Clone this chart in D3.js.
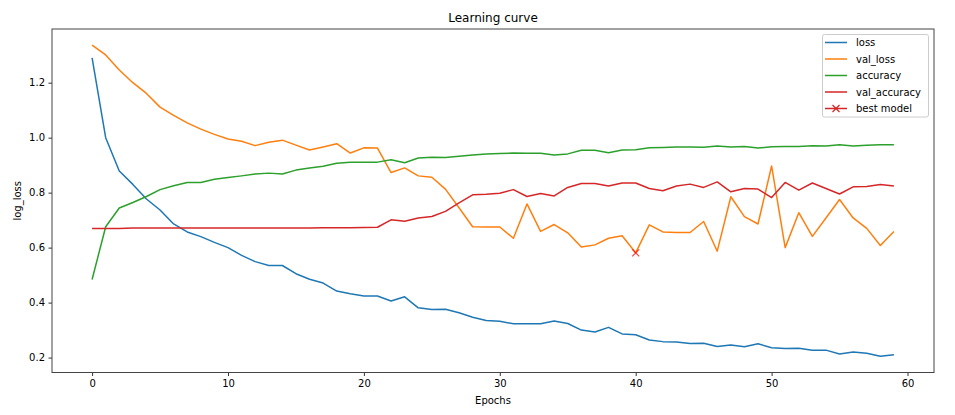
<!DOCTYPE html>
<html><head><meta charset="utf-8">
<script src="https://cdn.jsdelivr.net/npm/d3@7"></script>
<style>
body{margin:0;background:#fff;}
text{font-family:"DejaVu Sans",sans-serif;fill:#000;}
</style></head>
<body><svg id="c" width="955" height="415"></svg>
<script>
const loss=[1.29,1.0,0.879,0.83,0.777,0.737,0.686,0.657,0.640,0.619,0.600,0.572,0.549,0.535,0.535,0.505,0.485,0.471,0.442,0.432,
0.424,0.424,0.406,0.421,0.381,0.375,0.376,0.363,0.347,0.335,0.332,0.323,0.323,0.323,0.333,0.324,0.300,0.293,0.310,0.286,
0.283,0.264,0.258,0.257,0.251,0.252,0.240,0.246,0.239,0.250,0.236,0.233,0.234,0.227,0.227,0.213,0.220,0.216,0.205,0.210];
const valLoss=[1.337,1.301,1.246,1.2,1.161,1.111,1.081,1.054,1.031,1.012,0.995,0.987,0.971,0.983,0.991,0.973,0.955,0.966,0.978,0.944,
0.963,0.962,0.873,0.890,0.861,0.856,0.813,0.745,0.676,0.675,0.675,0.634,0.759,0.659,0.684,0.654,0.602,0.610,0.634,0.643,
0.581,0.683,0.657,0.655,0.655,0.695,0.587,0.785,0.713,0.686,0.897,0.600,0.727,0.641,0.708,0.775,0.708,0.670,0.608,0.659];
const accuracy=[0.484,0.676,0.744,0.764,0.786,0.811,0.825,0.837,0.837,0.849,0.855,0.861,0.868,0.871,0.868,0.882,0.890,0.896,0.907,0.911,
0.911,0.911,0.920,0.909,0.926,0.929,0.928,0.932,0.937,0.941,0.942,0.944,0.943,0.943,0.937,0.941,0.954,0.954,0.945,0.955,
0.956,0.963,0.964,0.966,0.966,0.965,0.970,0.966,0.968,0.962,0.967,0.968,0.968,0.971,0.970,0.974,0.970,0.972,0.974,0.974];
const valAccuracy=[0.670,0.670,0.670,0.671,0.671,0.671,0.671,0.671,0.671,0.671,0.671,0.671,0.671,0.671,0.671,0.671,0.671,0.672,0.672,0.672,
0.673,0.674,0.701,0.696,0.708,0.713,0.732,0.763,0.792,0.794,0.798,0.811,0.786,0.797,0.788,0.819,0.833,0.833,0.824,0.835,
0.835,0.815,0.807,0.824,0.831,0.819,0.839,0.803,0.815,0.813,0.782,0.837,0.809,0.835,0.815,0.795,0.821,0.822,0.830,0.824];
const bestEpoch=[40];
const bestValue=[0.581];
const xTicks=[0,10,20,30,40,50,60];
const yTicks=[0.2,0.4,0.6,0.8,1.0,1.2];
const seriesNames=["loss","val_loss","accuracy","val_accuracy","best model"];
const colors=["#1f77b4","#ff7f0e","#2ca02c","#d62728","red"];

const svg=d3.select("#c");
const L=52,R=934,T=29,B=372.5;
const x=d3.scaleLinear().domain([-2.95,61.95]).range([L,R]);
const y=d3.scaleLinear().domain([0.1457,1.3953]).range([B,T]);

const series=[loss,valLoss,accuracy,valAccuracy];
const line=d3.line().x((d,i)=>x(i)).y(d=>y(d));
const g=svg.append("g");
series.forEach((s,k)=>{
  g.append("path").attr("d",line(s)).attr("fill","none").attr("stroke",colors[k]).attr("stroke-width",1.5).attr("stroke-linejoin","round");
});
// best model marker
bestEpoch.forEach((e,i)=>{
  const cx=x(e),cy=y(bestValue[i]),r=3.5;
  g.append("path").attr("d",`M${cx-r},${cy-r}L${cx+r},${cy+r}M${cx-r},${cy+r}L${cx+r},${cy-r}`)
   .attr("stroke",colors[4]).attr("stroke-width",1.2).attr("opacity",0.75);
});

// axes
const xAx=svg.append("g").attr("transform",`translate(0,${B})`).call(d3.axisBottom(x).tickValues(xTicks).tickSize(3.5).tickPadding(3.5).tickFormat(d3.format("d")));
const yAx=svg.append("g").attr("transform",`translate(${L},0)`).call(d3.axisLeft(y).tickValues(yTicks).tickSize(3.5).tickPadding(3.5).tickFormat(d3.format(".1f")));
[xAx,yAx].forEach(a=>{a.select(".domain").remove();a.selectAll("line").attr("stroke","#333");a.selectAll("text").attr("font-size",10).attr("fill","#333").style("font-family","DejaVu Sans");});
svg.append("rect").attr("x",L).attr("y",T).attr("width",R-L).attr("height",B-T).attr("fill","none").attr("stroke","#444").attr("stroke-width",1);

svg.append("text").attr("x",(L+R)/2).attr("y",22).attr("text-anchor","middle").attr("font-size",12).text("Learning curve");
svg.append("text").attr("x",(L+R)/2).attr("y",404).attr("text-anchor","middle").attr("font-size",10).text("Epochs");
svg.append("text").attr("transform",`translate(21,${(T+B)/2}) rotate(-90)`).attr("text-anchor","middle").attr("font-size",10).text("log_loss");

// legend
const lg=svg.append("g");
lg.append("rect").attr("x",822.5).attr("y",34.5).attr("width",106).attr("height",82.5).attr("rx",2).attr("fill","#fff").attr("fill-opacity",0.8).attr("stroke","#ccc");
seriesNames.forEach((n,i)=>{
  const yy=42.5+i*16.5;
  lg.append("line").attr("x1",825).attr("x2",847).attr("y1",yy).attr("y2",yy).attr("stroke",colors[i===4?3:i]).attr("stroke-width",1.5);
  if(i===4){
    const cx=836,r=3.5;
    lg.append("path").attr("d",`M${cx-r},${yy-r}L${cx+r},${yy+r}M${cx-r},${yy+r}L${cx+r},${yy-r}`).attr("stroke",colors[3]).attr("stroke-width",1.2);
  }
  lg.append("text").attr("x",856).attr("y",yy+3.5).attr("font-size",10).text(n);
});
</script></body></html>
